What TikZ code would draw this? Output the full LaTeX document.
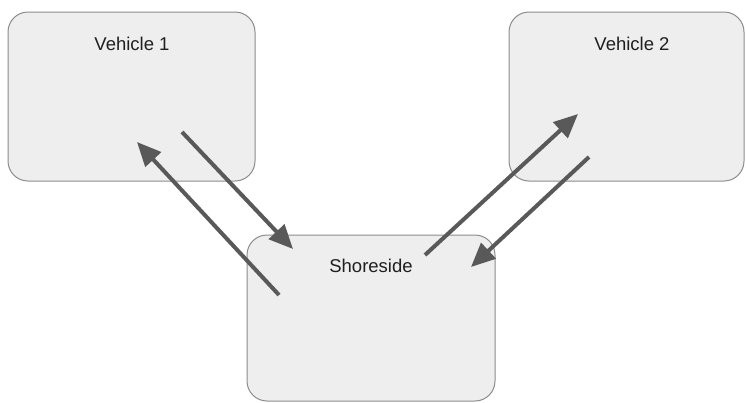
\documentclass[tikz,border=0pt]{standalone}
\usepackage{fontspec}
\setmainfont{Liberation Sans}
\usetikzlibrary{arrows.meta}
\definecolor{boxfill}{HTML}{EEEEEE}
\definecolor{boxline}{HTML}{8C8C8C}
\definecolor{arrowgray}{HTML}{595959}
\begin{document}
\begin{tikzpicture}[x=1pt,y=-1pt,
  panel/.style={draw=boxline,fill=boxfill,line width=1pt,rounded corners=20pt},
  label/.style={font=\fontsize{18.5}{22}\selectfont,text=black!88,anchor=center},
  link/.style={draw=arrowgray,line width=4pt,
    -{Triangle[length=24pt,width=21pt]}}]
  \useasboundingbox (0,0) rectangle (746,402);
  % boxes
  \draw[panel] (8,12) rectangle (255,181);
  \draw[panel] (509,12) rectangle (744,181);
  \draw[panel] (247,235) rectangle (495,401);
  % titles
  \node[label] (v1) at (132,44) {Vehicle 1};
  \node[label] (v2) at (632,44) {Vehicle 2};
  \node[label] (sh) at (371,266) {Shoreside};
  % arrow end points
  \coordinate (v1out) at (182,132);
  \coordinate (v1in)  at (137,142);
  \coordinate (shin1) at (293,249);
  \coordinate (shout1) at (279,295);
  \coordinate (shout2) at (425,255);
  \coordinate (v2in)  at (578,114);
  \coordinate (v2out) at (589,157);
  \coordinate (shin2) at (471,267);
  % links
  \draw[link] (v1out) -- (shin1);
  \draw[link] (shout1) -- (v1in);
  \draw[link] (shout2) -- (v2in);
  \draw[link] (v2out) -- (shin2);
\end{tikzpicture}
\end{document}
